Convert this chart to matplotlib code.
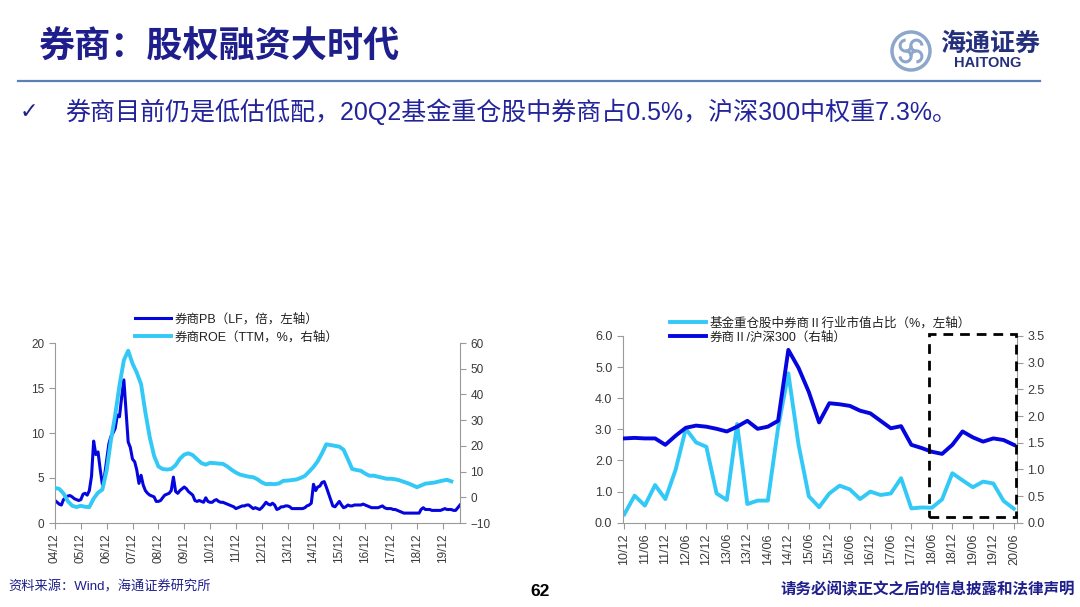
import numpy as np
import pandas as pd
import matplotlib
matplotlib.use('Agg')
import matplotlib.pyplot as plt
from matplotlib.lines import Line2D
from matplotlib.patches import Rectangle, Circle, Arc
from matplotlib.ticker import FormatStrFormatter

plt.rcParams['font.family'] = ['Liberation Sans', 'Noto Sans CJK SC', 'DejaVu Sans']

# 左图：券商PB（月度，04/12起）
pb = [2.5, 2.3, 2.1, 2.0, 2.6, 2.8, 3.0, 3.05, 2.9, 2.7, 2.6, 2.5,
      2.6, 3.2, 3.3, 3.1, 3.6, 5.2, 9.1, 7.6, 7.9, 6.0, 4.3, 5.2,
      7.0, 8.8, 9.6, 10.0, 10.5, 12.0, 11.8, 14.0, 15.9, 12.5, 9.0, 8.4,
      7.1, 6.8, 5.9, 4.4, 5.3, 4.2, 3.6, 3.3, 3.1, 3.0, 2.9, 2.4,
      2.4, 2.5, 2.8, 3.1, 3.2, 3.3, 3.6, 5.1, 3.5, 3.3, 3.6, 3.8,
      4.0, 3.8, 3.5, 3.3, 3.1, 2.5, 2.4, 2.5, 2.4, 2.3, 2.8, 2.4,
      2.3, 2.3, 2.5, 2.6, 2.4, 2.3, 2.3, 2.2, 2.1, 2.0, 1.9, 1.8,
      1.6, 1.7, 1.8, 1.9, 1.9, 2.0, 2.0, 1.8, 1.6, 1.7, 1.6, 1.5,
      1.7, 2.0, 2.3, 2.1, 2.0, 2.2, 2.0, 1.5, 1.6, 1.8, 1.8, 1.9,
      1.9, 1.8, 1.6, 1.6, 1.6, 1.6, 1.6, 1.6, 1.7, 1.9, 2.0, 2.2,
      4.3, 3.6, 4.0, 4.1, 4.5, 4.6, 4.0, 3.3, 2.6, 1.9, 1.8, 2.1,
      2.4, 2.0, 1.7, 1.8, 2.0, 1.9, 1.9, 2.0, 2.0, 2.0, 2.0, 2.1,
      2.0, 1.9, 1.8, 1.7, 1.7, 1.7, 1.7, 1.8, 1.9, 1.7, 1.6, 1.6,
      1.6, 1.5, 1.5, 1.4, 1.3, 1.2, 1.1, 1.1, 1.1, 1.1, 1.1, 1.1,
      1.1, 1.1, 1.5, 1.7, 1.5, 1.5, 1.5, 1.4, 1.4, 1.4, 1.4, 1.4,
      1.5, 1.6, 1.5, 1.5, 1.5, 1.4, 1.4, 1.7, 2.0]

# 左图：券商ROE（TTM，%，每两个月）
roe = [3.6, 3.3, 1.5, -1.5, -3.3, -3.8,
       -3.3, -3.7, -3.8, -0.5, 1.8, 3.0,
       10.5, 22.0, 32.0, 43.5, 53.3, 57.0,
       52.0, 48.5, 44.0, 33.0, 23.3, 16.1,
       12.0, 11.0, 10.8, 11.0, 12.5, 15.0,
       16.6, 17.1, 16.4, 14.8, 13.3, 12.7,
       13.4, 13.3, 13.1, 13.0, 12.0, 10.7,
       9.6, 8.8, 8.4, 8.0, 7.8, 7.0,
       5.8, 5.1, 5.2, 5.1, 5.4, 6.4,
       6.5, 6.7, 6.9, 7.5, 8.3, 10.0,
       11.8, 14.0, 17.1, 20.6, 20.3, 20.0,
       19.7, 18.5, 14.8, 11.0, 10.6, 10.3,
       9.2, 8.4, 8.4, 8.0, 7.6, 7.2,
       7.2, 7.0, 6.6, 6.0, 5.4, 4.7,
       3.9, 4.6, 5.3, 5.5, 5.7, 6.1,
       6.5, 6.8, 6.2]

left_years = list(range(2004, 2020))

# 右图：季度数据，10/12 至 20/06
fund_share = [0.27, 0.87, 0.55, 1.21, 0.76, 1.7, 3.02, 2.58, 2.44, 0.94,
              0.73, 3.17, 0.6, 0.71, 0.71, 3.05, 4.8, 2.5, 0.85, 0.5,
              0.94, 1.19, 1.07, 0.76, 1.0, 0.89, 0.94, 1.43, 0.46, 0.49,
              0.48, 0.75, 1.59, 1.36, 1.14, 1.32, 1.26, 0.7, 0.45]
rel_hs300 = [1.58, 1.59, 1.58, 1.58, 1.46, 1.63, 1.78, 1.82, 1.8, 1.76,
             1.71, 1.8, 1.91, 1.76, 1.8, 1.91, 3.24, 2.9, 2.45, 1.88,
             2.24, 2.22, 2.19, 2.1, 2.05, 1.91, 1.77, 1.81, 1.46, 1.4,
             1.33, 1.29, 1.46, 1.71, 1.6, 1.52, 1.58, 1.55, 1.46]
q_labels = ['10/12', '11/06', '11/12', '12/06', '12/12', '13/06', '13/12',
            '14/06', '14/12', '15/06', '15/12', '16/06', '16/12', '17/06',
            '17/12', '18/06', '18/12', '19/06', '19/12', '20/06']

NAVY = '#1E1E8C'
DARK = '#0505E0'
LIGHT = '#33C9F7'
GRAY = '#9A9A9A'
TXT = '#3A3A3A'

W, H = 1080, 607
fig = plt.figure(figsize=(W / 100, H / 100), dpi=100)


def box(l, t, r, b):
    return [l / W, 1 - b / H, (r - l) / W, (b - t) / H]


def px(x, y):
    return x / W, 1 - y / H


def style_axes(ax, axr, size):
    for a in (ax, axr):
        a.spines['top'].set_visible(False)
        for s in a.spines.values():
            s.set_color(GRAY)
        a.tick_params(axis='both', color=GRAY, labelcolor=TXT, labelsize=size,
                      length=4, width=0.8, direction='out')
    ax.spines['right'].set_visible(False)
    axr.spines['left'].set_visible(False)
    axr.spines['bottom'].set_visible(False)


# 标题区
fig.text(*px(38, 48), '券商：股权融资大时代', fontsize=26, weight='bold',
         color=NAVY, va='center', ha='left')
fig.add_artist(Line2D([18 / W, 1040 / W], [1 - 81 / H] * 2, color='#5B80B8', lw=1.6))
fig.text(*px(20, 112), '✓', fontsize=16, color=NAVY, va='center', ha='left',
         family=['DejaVu Sans'])
fig.text(*px(65, 112), '券商目前仍是低估低配，20Q2基金重仓股中券商占0.5%，沪深300中权重7.3%。',
         fontsize=18, color='#23239B', va='center', ha='left')

# 标志
lax = fig.add_axes(box(889, 28, 933, 74))
lax.set_xlim(-1.1, 1.1)
lax.set_ylim(-1.1, 1.1)
lax.set_aspect('equal')
lax.axis('off')
logo_c = '#8DA6CB'
lax.add_patch(Circle((0, 0), 0.95, fill=False, ec=logo_c, lw=2.5))
for ang in (0, 90, 180, 270):
    cx, cy = 0.38 * np.cos(np.radians(ang + 45)), 0.38 * np.sin(np.radians(ang + 45))
    lax.add_patch(Arc((cx, cy), 0.55, 0.55, theta1=ang, theta2=ang + 270, ec=logo_c, lw=2.2))
fig.text(*px(990, 44), '海通证券', fontsize=18, weight='bold', color='#24307C',
         va='center', ha='center')
fig.text(*px(988, 63), 'HAITONG', fontsize=10.5, weight='bold', color='#24307C',
         va='center', ha='center')

# 左图
ax1 = fig.add_axes(box(55, 343, 460, 523))
dates = pd.date_range('2004-12-31', periods=len(pb), freq='ME')
roe_dates = pd.date_range('2004-12-31', periods=len(roe), freq='2ME')
l1, = ax1.plot(dates, pb, color=DARK, lw=2.2)
ax1.set_ylim(0, 20)
ax1.set_yticks(range(0, 21, 5))
ax1b = ax1.twinx()
l2, = ax1b.plot(roe_dates, roe, color=LIGHT, lw=2.8)
ax1b.set_ylim(-10, 60)
ax1b.set_yticks(range(-10, 61, 10))
ax1.set_xlim(dates[0], dates[-1])
ticks = [pd.Timestamp(f'{y}-12-31') for y in left_years]
ax1.set_xticks(ticks)
ax1.set_xticklabels([f'{y % 100:02d}/12' for y in left_years], rotation=90)
style_axes(ax1, ax1b, 8.5)
fig.legend([l1, l2], ['券商PB（LF，倍，左轴）', '券商ROE（TTM，%，右轴）'],
           loc='upper left', bbox_to_anchor=px(135, 313), frameon=False,
           fontsize=9, handlelength=2.9, handletextpad=0.3, labelspacing=0.45,
           borderpad=0, borderaxespad=0, labelcolor='#202020')

# 右图
ax2 = fig.add_axes(box(622.7, 336, 1016.7, 522.7))
x = np.arange(len(fund_share))
l3, = ax2.plot(x, fund_share, color=LIGHT, lw=2.8)
ax2.set_ylim(0, 6)
ax2.set_yticks(np.arange(0, 6.01, 1.0))
ax2.yaxis.set_major_formatter(FormatStrFormatter('%.1f'))
ax2b = ax2.twinx()
l4, = ax2b.plot(x, rel_hs300, color=DARK, lw=2.8)
ax2b.set_ylim(0, 3.5)
ax2b.set_yticks(np.arange(0, 3.51, 0.5))
ax2b.yaxis.set_major_formatter(FormatStrFormatter('%.1f'))
ax2.set_xlim(-0.16, 38.28)
ax2.set_xticks(x[::2])
ax2.set_xticklabels(q_labels, rotation=90)
style_axes(ax2, ax2b, 9)
ax2b.add_patch(Rectangle((29.7, 0.17), 8.5, 5.88, transform=ax2.transData,
                         fill=False, ec='black', lw=2, ls=(0, (3.5, 2.5)),
                         clip_on=False, zorder=5))
fig.legend([l3, l4], ['基金重仓股中券商Ⅱ行业市值占比（%，左轴）', '券商Ⅱ/沪深300（右轴）'],
           loc='upper left', bbox_to_anchor=px(670, 317), frameon=False,
           fontsize=9, handlelength=2.9, handletextpad=0.3, labelspacing=0.15,
           borderpad=0, borderaxespad=0, labelcolor='#202020')

# 页脚
fig.text(*px(8, 587), '资料来源：Wind，海通证券研究所', fontsize=9.5, color=NAVY,
         va='center', ha='left')
fig.text(*px(540, 592), '62', fontsize=12.5, weight='bold', color='black',
         va='center', ha='center')
fig.text(*px(1075, 590), '请务必阅读正文之后的信息披露和法律声明', fontsize=11.2,
         weight='bold', color=NAVY, va='center', ha='right')

fig.savefig('out.png', dpi=100, facecolor='white')
